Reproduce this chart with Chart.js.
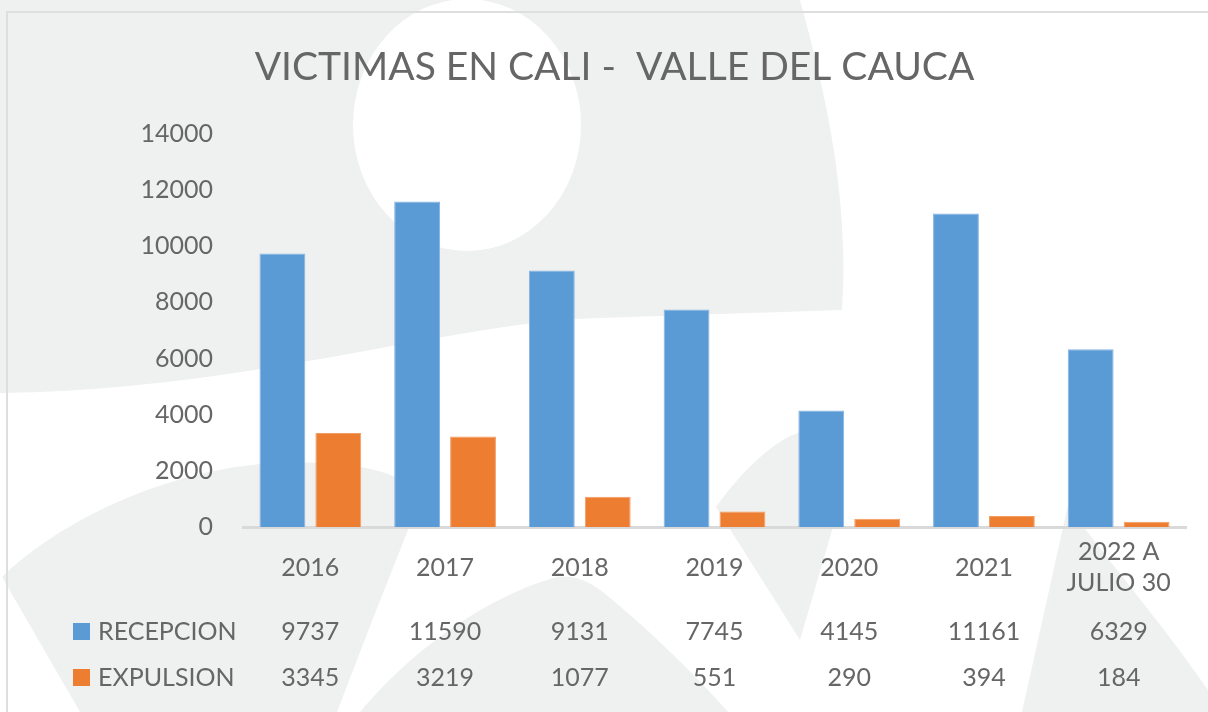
<!DOCTYPE html>
<html>
<head>
<meta charset="utf-8">
<title>Victimas en Cali - Valle del Cauca</title>
<script src="https://cdn.jsdelivr.net/npm/chart.js@4.4.1/dist/chart.umd.min.js"></script>
<style>
  html, body { margin: 0; padding: 0; width: 1208px; height: 712px; overflow: hidden; background: #ffffff; }
  #fondo { position: absolute; left: 0; top: 0; }
  #marco { position: absolute; left: 6px; top: 11px; width: 1300px; height: 800px; border-top: 2px solid #dedede; border-left: 2px solid #dedede; }
  #contenedor { position: absolute; left: 7px; top: 0; width: 1215px; height: 712px; }
</style>
</head>
<body>

<!-- fondo gris del logo -->
<svg id="fondo" width="1208" height="712" viewBox="0 0 1208 712">
  <g fill="#eff1f0">
    <path d="M0,0 L800,0 C822,80 850,190 842,310 L600,318 C450,322 250,390 0,393 Z"/>
    <path d="M80,712 L2,577 C60,520 170,468 275,463 C350,460 395,470 415,490 L408,530 Q372,620 337,712 Z"/>
    <path d="M360,712 C420,640 500,592 557,577 C578,574 592,584 604,593 C650,630 700,680 728,712 Z"/>
    <path d="M716,507 C742,470 778,436 805,431 C818,452 830,492 833,527 L800,640 Z"/>
    <path d="M1068,505 L1022,712 L1208,712 L1208,690 C1160,620 1100,552 1068,505 Z"/>
  </g>
  <ellipse cx="467" cy="125" rx="114" ry="126" fill="#ffffff"/>
</svg>
<div id="marco"></div>

<div id="contenedor"><canvas id="grafico"></canvas></div>

<script>
// datos
const anios = ['2016', '2017', '2018', '2019', '2020', '2021', ['2022 A', 'JULIO 30']];
const recepcion = [9737, 11590, 9131, 7745, 4145, 11161, 6329];
const expulsion = [3345, 3219, 1077, 551, 290, 394, 184];
const series = ['RECEPCION', 'EXPULSION'];
const ejeY = [0, 2000, 4000, 6000, 8000, 10000, 12000, 14000];

const gris = '#666666';
const fuente = 'Lato, "Open Sans", sans-serif';

// tabla de datos debajo del eje (como en Excel)
const tablaDatos = {
  id: 'tablaDatos',
  afterDraw: (chart) => {
    const ctx = chart.ctx;
    const x = chart.scales.x;
    const filas = [x.bottom + 34, x.bottom + 80];
    ctx.save();
    ctx.font = '25px ' + fuente;
    ctx.textBaseline = 'middle';
    chart.data.datasets.forEach((ds, d) => {
      const y = filas[d];
      ctx.fillStyle = ds.backgroundColor;
      ctx.fillRect(66, y - 9, 17, 17);
      ctx.fillStyle = gris;
      ctx.textAlign = 'left';
      ctx.fillText(ds.label, 91, y);
      ctx.textAlign = 'center';
      for (let i = 0; i < ds.data.length; i++) {
        ctx.fillText(String(ds.data[i]), x.getPixelForValue(i), y);
      }
    });
    ctx.restore();
  }
};

const grafico = new Chart(document.getElementById('grafico'), {
  type: 'bar',
  data: {
    labels: anios,
    datasets: [
      { label: series[0], data: recepcion, backgroundColor: '#5b9bd5', borderColor: '#86b4e2', borderWidth: 1 },
      { label: series[1], data: expulsion, backgroundColor: '#ed7d31', borderColor: '#f39d63', borderWidth: 1 }
    ]
  },
  options: {
    responsive: true,
    maintainAspectRatio: false,
    animation: false,
    layout: { padding: { left: 36, right: 36, top: 0, bottom: 114 } },
    datasets: { bar: { categoryPercentage: 0.83, barPercentage: 0.82 } },
    plugins: {
      legend: { display: false },
      tooltip: { enabled: false },
      title: {
        display: true,
        text: 'VICTIMAS EN CALI -  VALLE DEL CAUCA',
        color: gris,
        font: { family: fuente, size: 39, weight: 'normal' },
        padding: { top: 44, bottom: 43 }
      }
    },
    scales: {
      x: {
        grid: { display: false, drawTicks: false },
        border: { display: true, color: '#d9d9d9', width: 3 },
        afterFit: (scale) => { scale.height = 71; },
        ticks: {
          color: gris,
          font: { family: fuente, size: 25, lineHeight: 1.24 },
          padding: 25,
          maxRotation: 0,
          crossAlign: 'center'
        }
      },
      y: {
        min: 0,
        max: 14000,
        grid: { display: false, drawTicks: false },
        border: { display: false },
        afterFit: (scale) => { scale.width = 200; },
        afterBuildTicks: (scale) => { scale.ticks = ejeY.map(v => ({ value: v })); },
        ticks: {
          color: gris,
          font: { family: fuente, size: 25 },
          padding: 30,
          callback: (v) => String(v)
        }
      }
    }
  },
  plugins: [tablaDatos]
});
</script>
</body>
</html>
